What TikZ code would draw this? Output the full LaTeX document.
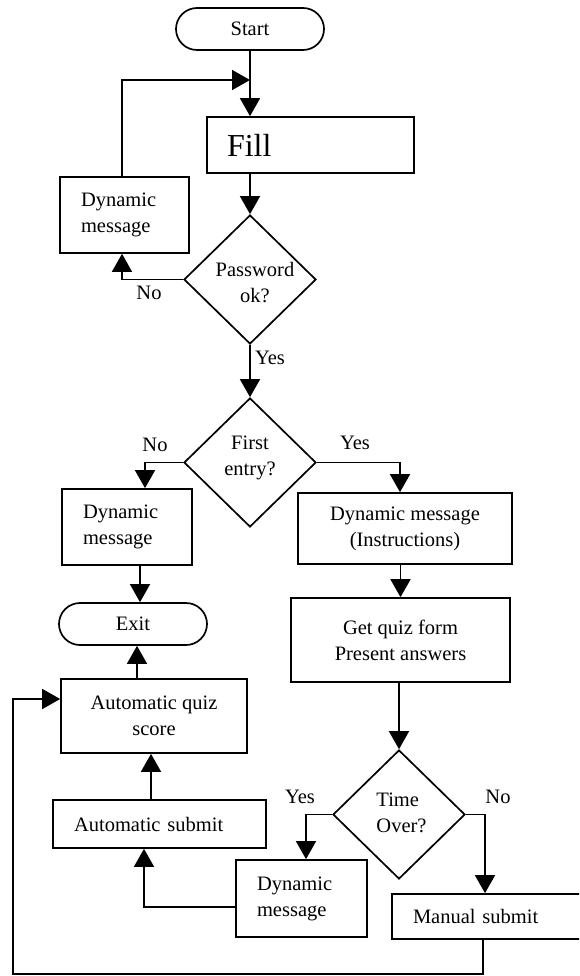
\documentclass[tikz,border=0pt]{standalone}
\usepackage{fontspec}
\setmainfont{Liberation Serif}
\usetikzlibrary{shapes.geometric,arrows.meta}
\begin{document}
\begin{tikzpicture}[x=1pt,y=-1pt,
  every node/.style={font=\fontsize{20.5}{26}\selectfont},
  ln/.style={line width=1.7pt},
  arr/.style={ln,-{Triangle[length=18pt,width=20pt]}},
  lbox/.style={draw,ln,rectangle,inner xsep=21pt,inner ysep=0pt,align=left},
  cbox/.style={draw,ln,rectangle,inner sep=0pt,align=center},
  term/.style={draw,ln,rectangle,rounded corners=21pt,minimum width=148pt,minimum height=42pt,inner sep=0pt},
  dec/.style={draw,ln,diamond,minimum width=132pt,minimum height=129pt,inner sep=0pt},
  dectext/.style={align=center,inner sep=0pt}]
\useasboundingbox (0,0) rectangle (579,976);
\fill[white] (0,0) rectangle (579,976);
\clip (0,0) rectangle (579,976);

% terminals
\node[term] (start) at (250,29) {Start};
\node[term] (exit) at (133,624) {Exit};

% process boxes
\node[lbox,text width=167pt,inner xsep=20pt,minimum height=56pt,font=\fontsize{32}{38}\selectfont] (fill) at (310.5,145) {Fill};
\node[lbox,text width=87pt,minimum height=76pt] (dm1) at (124.5,215) {Dynamic\\message};
\node[lbox,text width=88pt,minimum height=76pt] (dm2) at (127,527) {Dynamic\\message};
\node[cbox,minimum width=214pt,minimum height=71pt] (instr) at (405,528.5) {Dynamic message\\(Instructions)};
\node[cbox,minimum width=219pt,minimum height=84pt] (getquiz) at (400.5,640) {Get quiz form\\Present answers};
\node[cbox,minimum width=186pt,minimum height=74pt] (autoscore) at (154,716) {Automatic quiz\\score};
\node[lbox,text width=171pt,minimum height=48pt] (autosubmit) at (159.5,824) {Automatic submit};
\node[lbox,text width=89pt,minimum height=77pt] (dm3) at (301.5,898.5) {Dynamic\\message};
\node[lbox,text width=166pt,minimum height=45pt] (manual) at (496,916.5) {Manual submit};

% decisions
\node[dec,label={[dectext,xshift=5pt,yshift=-3pt]center:{Password\\ok?}}] (pw) at (250,279.5) {};
\node[dec,label={[dectext,yshift=5pt]center:{First\\entry?}}] (first) at (250,462.5) {};
\node[dec,label={[dectext,align=left,xshift=2.5pt,yshift=2pt]center:{Time\\Over?}}] (to) at (399,814.5) {};

% branch labels
\node (no1) at (149,293) {No};
\node (yes1) at (270,358) {Yes};
\node (no2) at (155,445) {No};
\node (yes2) at (355,443) {Yes};
\node (yes3) at (300,797) {Yes};
\node (no3) at (498,797) {No};

% connectors
\coordinate (join) at (250,80);
\coordinate (corner) at (13,974);
\draw[arr] (start.south) -- (start.south |- fill.north);
\draw[arr] ([xshift=-2.5pt]dm1.north) |- (join);
\draw[arr] (pw.north |- fill.south) -- (pw.north);
\draw[arr] (pw.west) -| ([xshift=-2.5pt]dm1.south);
\draw[arr] (pw.south) -- (first.north);
\draw[arr] (first.west) -| ([xshift=18pt]dm2.north);
\draw[arr] (first.east) -| ([xshift=-5pt]instr.north);
\draw[arr] ([xshift=7pt]exit.north |- dm2.south) -- ([xshift=7pt]exit.north);
\draw[arr] (getquiz.north |- instr.south) -- (getquiz.north);
\draw[arr] ([xshift=4pt]exit.south |- autoscore.north) -- ([xshift=4pt]exit.south);
\draw[arr] (to.north |- getquiz.south) -- (to.north);
\draw[arr] (to.west) -| ([xshift=4.5pt]dm3.north);
\draw[arr] (to.east) -| ([xshift=-11pt]manual.north);
\draw[arr] ([yshift=-8.5pt]dm3.west) -| ([xshift=-15.5pt]autosubmit.south);
\draw[arr] ([xshift=-3pt]autoscore.south |- autosubmit.north) -- ([xshift=-3pt]autoscore.south);
\draw[arr] ([xshift=-13pt]manual.south) |- (corner) |- ([yshift=17pt]autoscore.west);
\end{tikzpicture}
\end{document}
